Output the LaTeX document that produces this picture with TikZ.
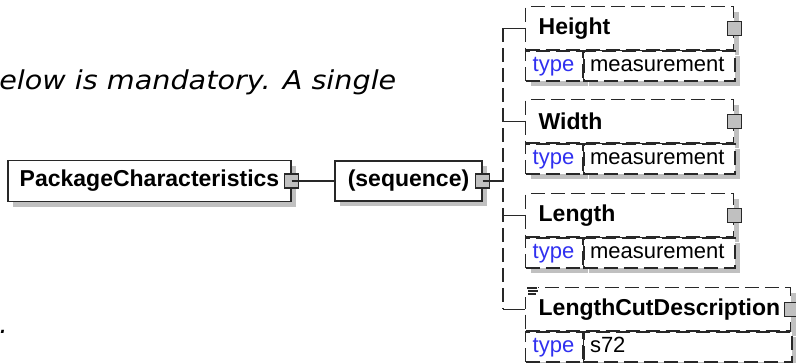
\documentclass[tikz,border=0pt]{standalone}
\usepackage{fontspec}
\setmainfont{Liberation Sans}
\newfontfamily\notefont{DejaVu Sans}
\definecolor{xsdblue}{RGB}{48,48,240}
\definecolor{xsdgray}{RGB}{192,192,192}
\definecolor{xsdline}{RGB}{40,40,40}
\usepackage{tikz}
\usetikzlibrary{positioning, calc, shadows}

\begin{document}
\begin{tikzpicture}[x=0.75pt, y=-0.75pt,
  shd/.style={drop shadow={fill=xsdgray, opacity=1, shadow xshift=3.75pt, shadow yshift=-3.75pt}},
  opt/.style={dash pattern=on 10.5pt off 4.5pt},
  nbox/.style={draw=xsdline, line width=1pt, fill=white, shd, inner sep=0pt, font=\bfseries\fontsize{17.25}{20}\selectfont},
  elem/.style={nbox, opt, minimum height=32.25pt, inner xsep=9.75pt, align=left, anchor=north west},
  trow/.style={draw=xsdline, line width=1pt, fill=white, shd, opt, inner sep=0pt, minimum height=22.5pt, align=left, anchor=north west, text height=12pt, text depth=3.5pt, font=\fontsize{16.5}{19}\selectfont},
  tkey/.style={trow, inner xsep=5.25pt, text width=32.25pt, text=xsdblue},
  tval/.style={trow, inner xsep=4.5pt},
  btn/.style={draw=xsdline, fill=xsdgray, line width=1pt, minimum size=10.5pt, inner sep=0pt, solid},
  note/.style={inner sep=0pt, font=\notefont\itshape\fontsize{19.5}{23}\selectfont},
]
  \useasboundingbox (0,0) rectangle (796,362);

  % text cut off by the picture frame
  \node[note, anchor=base west] (txt) at (-1,89) {\resizebox{297.75pt}{\height}{elow is mandatory. A single}};
  \node[note, anchor=base west] (dot) at (-1,333) {.};

  \node[nbox, minimum width=212.25pt, minimum height=30.75pt] (pc) at (149.5,181) {PackageCharacteristics};
  \node[nbox, minimum width=110.25pt, minimum height=30pt] (seq) at (408.5,181) {(sequence)};
  \node[btn] (pc-b) at (pc.east) {};
  \node[btn] (seq-b) at (seq.east) {};
  \coordinate (bus) at (503,181);
  \draw[xsdline, line width=1pt] (pc-b.center) -- (seq.west);
  \draw[xsdline, line width=1pt] (seq-b.center) -- (bus);

  \foreach \nm/\lbl/\val/\top/\tw/\vw in {hgt/Height/measurement/6/136.5/104.25,
      wid/Width/measurement/99/136.5/104.25, len/Length/measurement/193/136.5/104.25,
      lcd/LengthCutDescription/s72/287/179.25/147}{
    \node[elem, text width=\tw pt] (\nm) at (525,\top) {\lbl};
    \node[tkey] (\nm-k) at (\nm.south west) {type};
    \node[tval, text width=\vw pt] (\nm-v) at (\nm-k.north east) {\val};
    \draw[xsdline, line width=1pt] (\nm.south west) -- (\nm.south east);
    \draw[xsdline, line width=1pt] (\nm-k.north east) -- (\nm-k.south east);
    \node[btn] (\nm-b) at (\nm.east) {};
    \draw[xsdline, line width=1pt] (\nm.west -| bus) -- (\nm.west);
  }
  \draw[xsdline, line width=1pt, opt] (hgt.west -| bus) -- (lcd.west -| bus);

  % documentation mark
  \fill[white] ($(lcd.north west)+(-1.5,-2)$) rectangle ($(lcd.north west)+(13,10)$);
  \draw[xsdline, line width=0.8pt] ($(lcd.north west)+(2,1)$) -- ++(10,0)
    ($(lcd.north west)+(3,4)$) -- ++(10,0) ($(lcd.north west)+(3,7)$) -- ++(8,0);
\end{tikzpicture}
\end{document}
